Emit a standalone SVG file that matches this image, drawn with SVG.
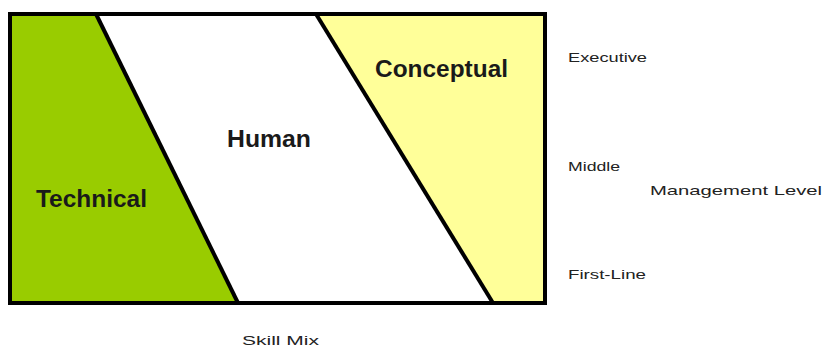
<svg xmlns="http://www.w3.org/2000/svg" width="824" height="347" viewBox="0 0 824 347">
<style>
.big{font-family:"Liberation Sans",Arial,sans-serif;font-weight:bold;font-size:23px;fill:#1a1a1a}
.small{font-family:"Liberation Sans",Arial,sans-serif;font-size:13px;fill:#222}
.edge{stroke:#000;stroke-width:4;fill:none}
</style>
<rect x="0" y="0" width="824" height="347" fill="#fff"/>
<g id="technical">
<polygon points="10,14 96,14 238,303 10,303" fill="#99cc00"/>
<text class="big" x="36" y="207" textLength="111" lengthAdjust="spacingAndGlyphs">Technical</text>
</g>
<g id="human">
<polygon points="96,14 316,14 493,303 238,303" fill="#fff"/>
<text class="big" x="227" y="147" textLength="84" lengthAdjust="spacingAndGlyphs">Human</text>
</g>
<g id="conceptual">
<polygon points="316,14 545,14 545,303 493,303" fill="#ffff99"/>
<text class="big" x="375" y="77" textLength="133" lengthAdjust="spacingAndGlyphs">Conceptual</text>
</g>
<g id="connectors">
<rect class="edge" x="10" y="14" width="535" height="289"/>
<line class="edge" x1="96" y1="14" x2="238" y2="303"/>
<line class="edge" x1="316" y1="14" x2="493" y2="303"/>
</g>
<g id="labels">
<text class="small" x="568" y="62" textLength="79" lengthAdjust="spacingAndGlyphs">Executive</text>
<text class="small" x="568" y="171" textLength="52" lengthAdjust="spacingAndGlyphs">Middle</text>
<text class="small" x="650" y="195" textLength="172" lengthAdjust="spacingAndGlyphs">Management Level</text>
<text class="small" x="568" y="279" textLength="78" lengthAdjust="spacingAndGlyphs">First-Line</text>
<text class="small" x="242" y="345" textLength="77" lengthAdjust="spacingAndGlyphs">Skill Mix</text>
</g>
</svg>
